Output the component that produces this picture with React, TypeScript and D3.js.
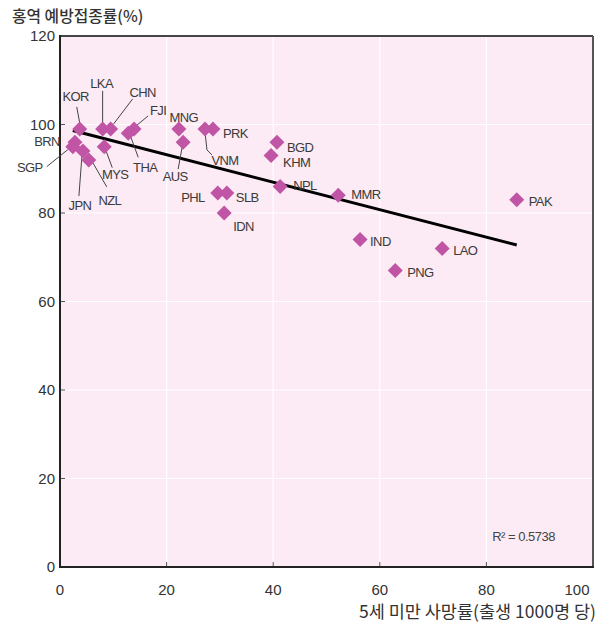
import React from "react";
import * as d3 from "d3";

// ---------- data ----------
const countries = ["KOR","LKA","CHN","THA","FJI","BRN","SGP","JPN","NZL","MYS","MNG","AUS","VNM","PRK","BGD","KHM","NPL","PHL","SLB","IDN","MMR","PAK","IND","LAO","PNG"];
const under5Mortality = [3.7, 8, 9.5, 12.8, 13.9, 2.8, 2.4, 4.3, 5.4, 8.3, 22.3, 23.1, 27.2, 28.7, 40.7, 39.6, 41.3, 29.6, 31.3, 30.8, 52.2, 85.7, 56.3, 71.7, 62.9];
const measlesCoverage = [99, 99, 99, 98, 99, 96, 95, 94, 92, 95, 99, 96, 99, 99, 96, 93, 86, 84.5, 84.5, 80, 84, 83, 74, 72, 67];
const xTicks = [0, 20, 40, 60, 80, 100];
const yTicks = [0, 20, 40, 60, 80, 100, 120];
const rSquaredLabel = "R² = 0.5738";
const yTitle = "홍역 예방접종률(%)";
const xTitle = "5세 미만 사망률(출생 1000명 당)";

// label layout (pixel offsets from point)
type Lab = { dx: number; dy: number; anchor: string; leader?: number[][] };
const labelLayout: Record<string, Lab> = {
  KOR: { dx: -4, dy: -33, anchor: "middle", leader: [[-3, -22], [0, -6]] },
  LKA: { dx: -1, dy: -46, anchor: "middle", leader: [[0, -38], [0, -6]] },
  CHN: { dx: 32, dy: -37, anchor: "middle", leader: [[22, -30], [3, -5]] },
  FJI: { dx: 24, dy: -19, anchor: "middle", leader: [[14, -13], [2, -3]] },
  THA: { dx: 17, dy: 34, anchor: "middle", leader: [[2, 2], [10, 24]] },
  BRN: { dx: -15, dy: -1, anchor: "end" },
  SGP: { dx: -43, dy: 21, anchor: "middle", leader: [[-26, 20], [-5, 3]] },
  JPN: { dx: -3, dy: 54, anchor: "middle", leader: [[-4, 45], [-1, 5]] },
  NZL: { dx: 21, dy: 40, anchor: "middle", leader: [[18, 27], [3, 1]] },
  MYS: { dx: 11, dy: 28, anchor: "middle", leader: [[8, 21], [1, 2]] },
  MNG: { dx: 5, dy: -12, anchor: "middle" },
  AUS: { dx: -8, dy: 34, anchor: "middle", leader: [[-5, 27], [-1, 5]] },
  VNM: { dx: 20, dy: 31, anchor: "middle", leader: [[0, 3], [2, 21], [7, 26]] },
  PRK: { dx: 10, dy: 4, anchor: "start" },
  BGD: { dx: 10, dy: 5, anchor: "start" },
  KHM: { dx: 12, dy: 7, anchor: "start" },
  NPL: { dx: 13, dy: -1, anchor: "start" },
  PHL: { dx: -13, dy: 4, anchor: "end" },
  SLB: { dx: 9, dy: 4, anchor: "start" },
  IDN: { dx: 9, dy: 13, anchor: "start" },
  MMR: { dx: 13, dy: -1, anchor: "start" },
  PAK: { dx: 12, dy: 2, anchor: "start" },
  IND: { dx: 10, dy: 2, anchor: "start" },
  LAO: { dx: 11, dy: 2, anchor: "start" },
  PNG: { dx: 12, dy: 2, anchor: "start" },
};

export default function App() {
  const W = 603, H = 628;
  const left = 60, right = 593, top = 36, bottom = 567;
  const x = d3.scaleLinear().domain([0, 100]).range([left, right]);
  const y = d3.scaleLinear().domain([0, 120]).range([bottom, top]);

  const pts = countries.map((c, i) => ({ c, vx: under5Mortality[i], vy: measlesCoverage[i] }));
  const mx = d3.mean(under5Mortality)!, my = d3.mean(measlesCoverage)!;
  let sxy = 0, sxx = 0;
  pts.forEach((p) => { sxy += (p.vx - mx) * (p.vy - my); sxx += (p.vx - mx) ** 2; });
  const slope = sxy / sxx;
  const intercept = my - slope * mx;
  const [xmin, xmax] = d3.extent(under5Mortality) as [number, number];
  const line = d3.line<number>().x((v) => x(v)).y((v) => y(intercept + slope * v));

  const r = 7.5;
  const diamond = `M0,${-r}L${r},0L0,${r}L${-r},0Z`;
  const font = "'Liberation Sans', Arial, sans-serif";
  const kfont = "'Noto Sans CJK KR', sans-serif";

  return (
    <svg width={W} height={H} style={{ position: "absolute", left: 0, top: 0, background: "#fff" }}>
      <rect x={left} y={top} width={right - left} height={bottom - top} fill="#fcebf4" />
      {xTicks.slice(1, -1).map((t) => (
        <line key={"gx" + t} x1={x(t)} x2={x(t)} y1={top} y2={bottom} stroke="#fff" strokeWidth={1.2} />
      ))}
      {yTicks.slice(1, -1).map((t) => (
        <line key={"gy" + t} x1={left} x2={right} y1={y(t)} y2={y(t)} stroke="#fff" strokeWidth={1.2} />
      ))}
      {xTicks.slice(1, -1).map((t) => (
        <line key={"tx" + t} x1={x(t)} x2={x(t)} y1={bottom} y2={bottom - 5} stroke="#555" strokeWidth={1} />
      ))}
      {yTicks.slice(1, -1).map((t) => (
        <line key={"ty" + t} x1={left} x2={left + 5} y1={y(t)} y2={y(t)} stroke="#555" strokeWidth={1} />
      ))}
      <line x1={left} x2={right} y1={top} y2={top} stroke="#444" strokeWidth={2} />
      <line x1={right} x2={right} y1={top} y2={bottom} stroke="#555" strokeWidth={2} />
      <line x1={left} x2={left} y1={top - 1} y2={bottom + 1} stroke="#222" strokeWidth={2} />
      <line x1={left - 1} x2={right + 1} y1={bottom} y2={bottom} stroke="#222" strokeWidth={2} />

      {/* regression */}
      <path d={line([xmin, xmax]) || ""} stroke="#000" strokeWidth={3} fill="none" />

      {/* leaders */}
      {pts.map((p) => {
        const L = labelLayout[p.c];
        if (!L || !L.leader) return null;
        const px = x(p.vx), py = y(p.vy);
        const d = d3.line()(L.leader.map(([a, b]) => [px + a, py + b] as [number, number]));
        return <path key={"l" + p.c} d={d || ""} stroke="#444" strokeWidth={1} fill="none" />;
      })}

      {/* points */}
      {pts.map((p) => (
        <path key={"p" + p.c} d={diamond} transform={`translate(${x(p.vx)},${y(p.vy)})`} fill="#c055a6" />
      ))}

      {/* labels */}
      {pts.map((p) => {
        const L = labelLayout[p.c];
        return (
          <text key={"t" + p.c} x={x(p.vx) + L.dx} y={y(p.vy) + L.dy} dy="0.36em" textAnchor={L.anchor}
            fontFamily={font} fontSize={13} fill="#3a3a3a" letterSpacing={-0.6}>
            {p.c}
          </text>
        );
      })}

      {/* axis tick labels */}
      {yTicks.map((t) => (
        <text key={"yl" + t} x={55} y={y(t)} dy="0.36em" textAnchor="end" fontFamily={font} fontSize={15} fill="#333">
          {t}
        </text>
      ))}
      {xTicks.map((t) => (
        <text key={"xl" + t} x={t === 100 ? x(t) - 16 : x(t)} y={590} dy="0.36em" textAnchor="middle" fontFamily={font} fontSize={15} fill="#333">
          {t}
        </text>
      ))}

      <text x={12} y={16} dy="0.36em" fontFamily={kfont} fontSize={15.8} fontWeight={500} fill="#333">{yTitle}</text>
      <text x={596} y={612} dy="0.36em" textAnchor="end" fontFamily={kfont} fontSize={17.5} fill="#333">{xTitle}</text>
      <text x={555} y={536} dy="0.36em" textAnchor="end" fontFamily={font} fontSize={13} fill="#444" letterSpacing={-0.5}>{rSquaredLabel}</text>
    </svg>
  );
}
